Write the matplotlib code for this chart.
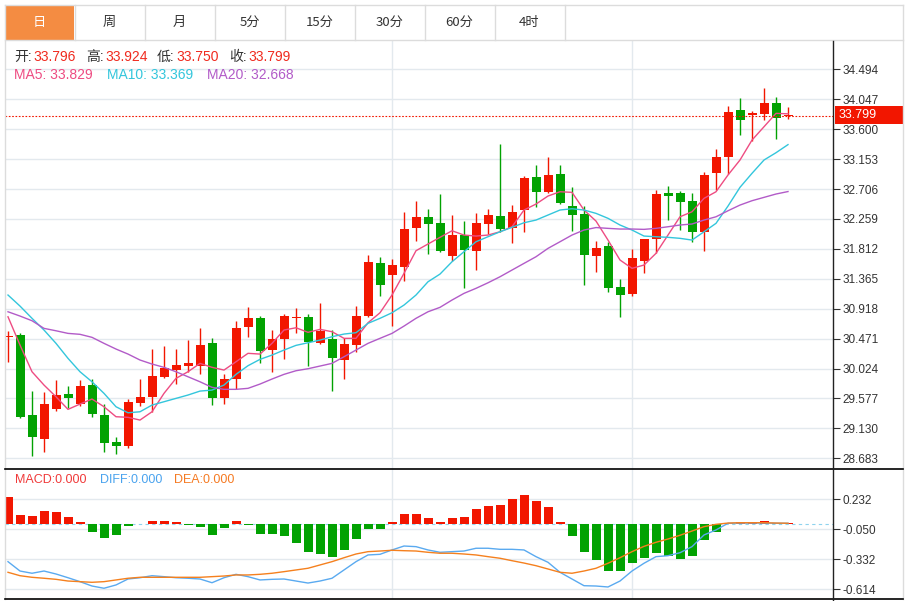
import matplotlib
matplotlib.use('Agg')
import matplotlib.pyplot as plt
from matplotlib.patches import Rectangle
from matplotlib.lines import Line2D

W, H = 908, 601

tabs = ['日', '周', '月', '5分', '15分', '30分', '60分', '4时']

# daily candles, oldest first
opens = [30.490, 30.520, 29.329, 28.975, 29.423, 29.643, 29.493, 29.777, 29.333, 28.925,
         28.870, 29.504, 29.594, 29.901, 30.006, 30.061, 30.066, 30.409, 29.578, 29.871,
         30.648, 30.783, 30.300, 30.464, 30.775, 30.789, 30.400, 30.464, 30.151, 30.370,
         30.808, 31.604, 31.421, 31.545, 32.118, 32.282, 32.193, 31.705, 32.014, 31.784,
         32.183, 32.302, 32.118, 32.387, 32.880, 32.661, 32.925, 32.459, 32.332, 31.712,
         31.854, 31.237, 31.141, 31.630, 31.954, 32.641, 32.641, 32.531, 32.058, 32.940,
         33.188, 33.881, 33.811, 33.826, 33.995, 33.796]
highs = [30.584, 30.550, 29.687, 29.668, 29.852, 29.762, 29.852, 29.867, 29.493, 29.000,
         29.572, 29.867, 30.319, 30.360, 30.319, 30.449, 30.629, 30.479, 29.941, 30.729,
         30.947, 30.812, 30.599, 30.838, 30.923, 30.838, 30.998, 30.599, 30.475, 30.962,
         31.715, 31.694, 31.655, 32.357, 32.530, 32.402, 32.631, 32.317, 32.227, 32.347,
         32.402, 33.378, 32.471, 32.895, 33.064, 33.188, 33.064, 32.735, 32.452, 31.928,
         31.909, 31.365, 31.813, 31.960, 32.690, 32.746, 32.676, 32.641, 32.959, 33.303,
         33.945, 34.060, 33.875, 34.214, 34.080, 33.924]
lows = [30.125, 29.289, 28.721, 28.781, 29.393, 29.438, 29.467, 29.295, 28.772, 28.751,
        28.840, 29.467, 29.378, 29.877, 29.787, 29.976, 29.937, 29.478, 29.489, 29.713,
        30.498, 30.106, 29.976, 30.170, 30.549, 30.066, 30.390, 29.687, 29.862, 30.275,
        30.798, 31.107, 30.659, 31.335, 31.933, 31.730, 31.769, 31.634, 31.231, 31.495,
        32.033, 32.058, 31.894, 32.058, 32.432, 32.641, 32.481, 32.083, 31.271, 31.470,
        31.162, 30.793, 31.102, 31.446, 31.745, 32.242, 32.093, 31.918, 31.784, 32.690,
        32.925, 33.512, 33.423, 33.736, 33.452, 33.750]
closes = [30.498, 29.304, 29.000, 29.493, 29.623, 29.578, 29.767, 29.344, 28.906, 28.870,
          29.523, 29.598, 29.911, 30.026, 30.076, 30.106, 30.379, 29.578, 29.867, 30.629,
          30.783, 30.289, 30.460, 30.808, 30.783, 30.415, 30.584, 30.176, 30.390, 30.808,
          31.615, 31.276, 31.570, 32.108, 32.291, 32.178, 31.779, 32.023, 31.794, 32.202,
          32.317, 32.108, 32.362, 32.865, 32.665, 32.915, 32.501, 32.314, 31.715, 31.832,
          31.231, 31.126, 31.670, 31.954, 32.635, 32.605, 32.507, 32.067, 32.919, 33.188,
          33.851, 33.741, 33.841, 33.995, 33.762, 33.799]

ma5 = [30.797, 30.375, 29.976, 29.777, 29.602, 29.414, 29.493, 29.568, 29.453, 29.304,
       29.295, 29.254, 29.378, 29.653, 29.877, 29.976, 30.101, 30.042, 30.001, 30.125,
       30.251, 30.240, 30.400, 30.599, 30.633, 30.565, 30.609, 30.574, 30.475, 30.475,
       30.708, 30.857, 31.122, 31.446, 31.784, 31.884, 31.984, 32.082, 32.018, 32.003,
       32.018, 32.067, 32.142, 32.392, 32.481, 32.601, 32.665, 32.656, 32.392, 32.227,
       31.943, 31.645, 31.521, 31.570, 31.745, 32.018, 32.291, 32.366, 32.566, 32.665,
       32.915, 33.139, 33.437, 33.636, 33.836, 33.829]
ma10 = [31.122, 30.957, 30.774, 30.599, 30.400, 30.176, 29.976, 29.826, 29.653, 29.453,
        29.363, 29.378, 29.478, 29.528, 29.578, 29.628, 29.687, 29.702, 29.777, 29.937,
        30.066, 30.161, 30.225, 30.300, 30.370, 30.409, 30.449, 30.499, 30.539, 30.559,
        30.699, 30.774, 30.857, 30.972, 31.122, 31.320, 31.435, 31.619, 31.769, 31.918,
        31.993, 32.067, 32.133, 32.202, 32.242, 32.317, 32.392, 32.411, 32.392, 32.342,
        32.268, 32.168, 32.093, 32.003, 31.993, 31.984, 31.969, 31.943, 32.067, 32.193,
        32.451, 32.731, 32.940, 33.139, 33.248, 33.369]
ma20 = [30.872, 30.808, 30.738, 30.624, 30.588, 30.549, 30.535, 30.490, 30.400, 30.315,
        30.240, 30.151, 30.091, 30.042, 29.976, 29.901, 29.826, 29.743, 29.713, 29.713,
        29.728, 29.792, 29.867, 29.937, 29.991, 30.021, 30.061, 30.101, 30.200, 30.300,
        30.400, 30.475, 30.549, 30.658, 30.774, 30.872, 30.938, 31.047, 31.147, 31.222,
        31.305, 31.395, 31.495, 31.595, 31.694, 31.819, 31.918, 32.018, 32.093, 32.130,
        32.118, 32.108, 32.108, 32.103, 32.118, 32.142, 32.168, 32.183, 32.242, 32.291,
        32.381, 32.466, 32.531, 32.581, 32.631, 32.668]

macd = [0.251, 0.085, 0.072, 0.122, 0.110, 0.066, 0.019, -0.078, -0.129, -0.101,
        -0.016, -0.003, 0.031, 0.028, 0.016, -0.007, -0.028, -0.103, -0.038, 0.025,
        -0.012, -0.091, -0.094, -0.110, -0.181, -0.260, -0.285, -0.310, -0.244, -0.144,
        -0.050, -0.050, 0.019, 0.091, 0.091, 0.056, 0.019, 0.059, 0.069, 0.141,
        0.166, 0.179, 0.238, 0.273, 0.216, 0.157, 0.019, -0.113, -0.260, -0.338,
        -0.442, -0.439, -0.367, -0.320, -0.273, -0.301, -0.326, -0.304, -0.153, -0.072,
        0.005, 0.016, 0.022, 0.028, 0.014, 0.005]
diff = [-0.354, -0.442, -0.463, -0.442, -0.470, -0.505, -0.542, -0.583, -0.604, -0.573,
        -0.517, -0.505, -0.486, -0.495, -0.505, -0.510, -0.517, -0.552, -0.505, -0.473,
        -0.495, -0.526, -0.520, -0.517, -0.536, -0.555, -0.536, -0.510, -0.432, -0.354,
        -0.291, -0.285, -0.244, -0.207, -0.213, -0.244, -0.266, -0.260, -0.254, -0.228,
        -0.228, -0.238, -0.238, -0.244, -0.307, -0.360, -0.454, -0.517, -0.580, -0.583,
        -0.592, -0.536, -0.442, -0.369, -0.307, -0.298, -0.270, -0.213, -0.103, -0.056,
        0.007, 0.009, 0.009, 0.009, 0.007, 0.007]
dea = [-0.454, -0.486, -0.501, -0.510, -0.520, -0.536, -0.542, -0.548, -0.542, -0.526,
       -0.510, -0.501, -0.501, -0.501, -0.501, -0.501, -0.501, -0.495, -0.489, -0.479,
       -0.479, -0.473, -0.463, -0.448, -0.432, -0.416, -0.385, -0.354, -0.317, -0.282,
       -0.260, -0.254, -0.247, -0.251, -0.254, -0.266, -0.275, -0.275, -0.282, -0.291,
       -0.307, -0.322, -0.345, -0.367, -0.392, -0.423, -0.454, -0.463, -0.442, -0.416,
       -0.369, -0.317, -0.260, -0.210, -0.172, -0.141, -0.106, -0.066, -0.025, -0.003,
       0.009, 0.012, 0.012, 0.012, 0.009, 0.007]

price_ticks = [28.683, 29.130, 29.577, 30.024, 30.471, 30.918, 31.365,
               31.812, 32.259, 32.706, 33.153, 33.600, 34.047, 34.494]
macd_ticks = [0.232, -0.050, -0.332, -0.614]
month_marks = [32, 52]

RED = '#f21600'
GREEN = '#02a202'
C_MA5 = '#ee4c82'
C_MA10 = '#33c6dc'
C_MA20 = '#b25bc8'
C_DIFF = '#5aaaf0'
C_DEA = '#f5801e'
GRID = '#e3e9ee'
BORDER = '#dcdcdc'
TXT = '#333333'

plt.rcParams['font.family'] = ['Liberation Sans', 'Noto Sans CJK SC']


def fx(x):
    return x / W


def fy(y):
    return 1 - y / H


fig = plt.figure(figsize=(W / 100, H / 100), dpi=100)
fig.patch.set_facecolor('white')

n = len(closes)
xs = list(range(n))

# --- price panel
ax = fig.add_axes([fx(5), fy(469), 828 / W, 429 / H])
ax.set_xlim(-0.25, 68.75)
ax.set_ylim(28.523, 34.932)
for s in ax.spines.values():
    s.set_visible(False)
ax.set_yticks(price_ticks)
ax.set_yticklabels([f'{t:.3f}' for t in price_ticks])
ax.yaxis.tick_right()
ax.tick_params(axis='y', direction='out', length=5, width=0.8, color=TXT,
               labelsize=8.5, labelcolor=TXT, pad=2)
ax.set_xticks(month_marks)
ax.tick_params(axis='x', length=0, labelbottom=False)
ax.grid(True, color=GRID, lw=1)
ax.set_axisbelow(True)

for i in xs:
    o, h, l, c = opens[i], highs[i], lows[i], closes[i]
    col = RED if c >= o else GREEN
    ax.vlines(i, l, h, color=col, lw=1, zorder=2)
    bottom = min(o, c)
    height = max(abs(c - o), 0.022)
    ax.add_patch(Rectangle((i - 0.375, bottom), 0.75, height, facecolor=col,
                           edgecolor='none', zorder=3))

ax.plot(xs, ma5, color=C_MA5, lw=1, zorder=4)
ax.plot(xs, ma10, color=C_MA10, lw=1, zorder=4)
ax.plot(xs, ma20, color=C_MA20, lw=1, zorder=4)
ax.axhline(closes[-1], color=RED, lw=0.8, ls=(0, (1.5, 1.5)), zorder=5)

# --- MACD panel
ax2 = fig.add_axes([fx(5), fy(599), 828 / W, 130 / H])
ax2.set_xlim(-0.25, 68.75)
ax2.set_ylim(-0.705, 0.517)
for s in ax2.spines.values():
    s.set_visible(False)
ax2.set_yticks(macd_ticks)
ax2.set_yticklabels([f'{t:.3f}' for t in macd_ticks])
ax2.yaxis.tick_right()
ax2.tick_params(axis='y', direction='out', length=5, width=0.8, color=TXT,
                labelsize=8.5, labelcolor=TXT, pad=2)
ax2.set_xticks(month_marks)
ax2.tick_params(axis='x', length=0, labelbottom=False)
ax2.grid(True, color=GRID, lw=1)
ax2.set_axisbelow(True)

ax2.axhline(0, color='#8ed3ee', lw=0.8, ls=(0, (3, 3)), zorder=1)
ax2.bar(xs, macd, width=0.75, color=[RED if v >= 0 else GREEN for v in macd], zorder=2)
ax2.plot(xs, diff, color=C_DIFF, lw=1, zorder=3)
ax2.plot(xs, dea, color=C_DEA, lw=1, zorder=3)

# --- frame, tabs and separators
def hline(y, x0, x1, color, lw=1):
    fig.add_artist(Line2D([fx(x0), fx(x1)], [fy(y), fy(y)], color=color, lw=lw))


def vline(x, y0, y1, color, lw=1):
    fig.add_artist(Line2D([fx(x), fx(x)], [fy(y0), fy(y1)], color=color, lw=lw))


fig.add_artist(Rectangle((fx(5), fy(40)), 69 / W, 35 / H, transform=fig.transFigure,
                         facecolor='#f48c42', edgecolor='none'))
hline(5, 5, 903, BORDER)
hline(40, 5, 903, BORDER)
vline(5, 5, 599, BORDER)
vline(903, 5, 599, BORDER)
for k in range(1, len(tabs) + 1):
    vline(5 + 70 * k, 5, 40, BORDER)
for k, t in enumerate(tabs):
    fig.text(fx(39.5 + 70 * k), fy(22.5), t, ha='center', va='center', fontsize=9.5,
             family=['Noto Sans CJK SC'], color='white' if k == 0 else TXT)

hline(469.3, 5, 903, 'black', 1.2)
hline(599.3, 5, 903, 'black', 1.2)
vline(833.3, 40.5, 601, '#222222', 1)

# last price label
fig.add_artist(Rectangle((fx(835), fy(124)), 68 / W, 18 / H, transform=fig.transFigure,
                         facecolor=RED, edgecolor='none'))
fig.text(fx(839), fy(115), f'{closes[-1]:.3f}', ha='left', va='center', fontsize=9,
         color='white')

# --- legends
ohlc_labels = [('开:', 14, 33, opens[-1]), ('高:', 86, 105, highs[-1]),
               ('低:', 157, 176, lows[-1]), ('收:', 229, 248, closes[-1])]
for lab, x0, x1, v in ohlc_labels:
    fig.text(fx(x0), fy(57), lab, ha='left', va='center', fontsize=10, color=TXT)
    fig.text(fx(x1), fy(57), f'{v:.3f}', ha='left', va='center', fontsize=10, color='#f02a1e')

fig.text(fx(14), fy(75), f'MA5: {ma5[-1]:.3f}', ha='left', va='center', fontsize=10, color=C_MA5)
fig.text(fx(107), fy(75), f'MA10: {ma10[-1]:.3f}', ha='left', va='center', fontsize=10, color=C_MA10)
fig.text(fx(207), fy(75), f'MA20: {ma20[-1]:.3f}', ha='left', va='center', fontsize=10, color=C_MA20)

fig.text(fx(15), fy(480), 'MACD:0.000', ha='left', va='center', fontsize=9, color='#f03a3a')
fig.text(fx(100), fy(480), 'DIFF:0.000', ha='left', va='center', fontsize=9, color='#4aa3ee')
fig.text(fx(174), fy(480), 'DEA:0.000', ha='left', va='center', fontsize=9, color='#f57a22')

fig.savefig('out.png', dpi=100, facecolor='white')
